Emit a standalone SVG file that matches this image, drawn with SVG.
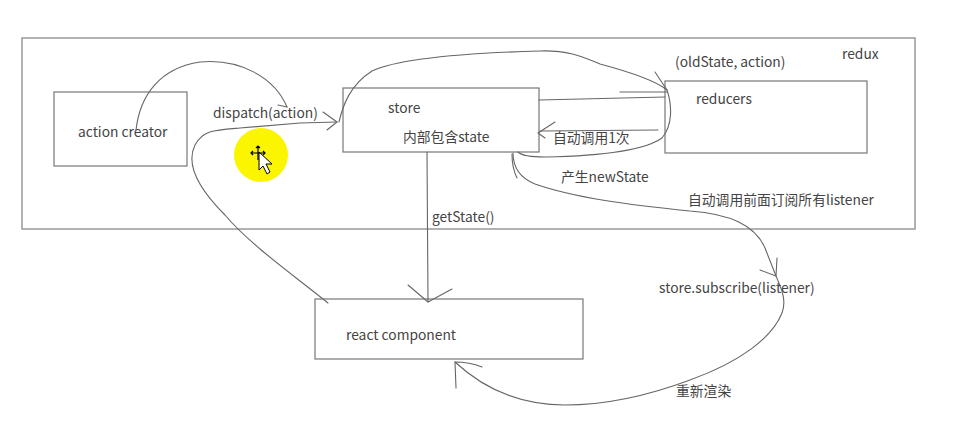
<svg xmlns="http://www.w3.org/2000/svg" width="965" height="426" viewBox="0 0 965 426">
<style>
.box{fill:#fff;stroke:#777;stroke-width:1.2}
.frame{fill:none;stroke:#999;stroke-width:1.5}
.c{fill:none;stroke:#666;stroke-width:1.1;stroke-linecap:round;stroke-linejoin:round}
text{font-family:"Noto Sans CJK SC","Noto Sans",sans-serif;font-size:13.8px;fill:#444}
</style>
<rect width="965" height="426" fill="#fff"/>
<g id="redux">
<rect class="frame" x="22" y="38" width="893" height="191"/>
<text x="842" y="59">redux</text>
</g>
<g id="action-creator">
<rect class="box" x="54" y="92" width="133" height="74"/>
<text x="78" y="137">action creator</text>
</g>
<g id="store">
<rect class="box" x="343" y="88" width="196" height="64"/>
<text x="388" y="113">store</text>
<text x="403" y="142">内部包含state</text>
</g>
<g id="reducers">
<rect class="box" x="665" y="81" width="202" height="72"/>
<text x="696" y="104">reducers</text>
</g>
<g id="react-component">
<rect class="box" x="315" y="299" width="268" height="60"/>
<text x="346" y="340">react component</text>
</g>
<g id="pointer">
<circle cx="261" cy="155" r="27" fill="#fbf500"/>
<path d="M259,152 L259,170 L263,166 L267,174 L270,172 L266,164 L272,164 Z" fill="#fff" stroke="#000" stroke-width="1"/>
<path d="M251,153 L265,153 M258,146 L258,160 M253,151 L251,153 L253,155 M263,151 L265,153 L263,155 M256,148 L258,146 L260,148" fill="none" stroke="#000" stroke-width="1.2"/>
</g>
<g id="connectors">
<path class="c" d="M136,130 C 140,95 160,68 200,62 C 240,58 275,78 287,107"/>
<path class="c" d="M278,105 L287,107"/>
<path class="c" d="M328,303 C 300,280 250,245 225,215 C 200,190 185,165 195,145 C 203,130 215,130 240,128 L 300,123 L 337,122"/>
<path class="c" d="M323,112 L337,122 L327,130"/>
<path class="c" d="M339,122 C 343,105 350,85 372,71 C 400,58 470,53 540,51 C 570,50 585,58 600,64 C 630,72 655,80 667,90 C 672,105 673,125 662,138 C 645,150 600,156 545,157 C 530,157 522,156 518,152"/>
<path class="c" d="M655,72 L667,90 M620,92 L667,92"/>
<path class="c" d="M539,100 L665,97"/>
<path class="c" d="M658,130 L540,131"/>
<path class="c" d="M555,122 L538,133 L545,138"/>
<path class="c" d="M427,152 L428,302"/>
<path class="c" d="M408,285 L428,302 L452,289"/>
<path class="c" d="M512,154 C 512,164 514,172 517,178"/>
<path class="c" d="M513,153 C 513,168 520,178 535,184 C 575,198 630,205 690,211 C 730,214 755,225 765,248 L 776,276 C 781,288 787,300 782,313 C 772,338 740,362 690,380 C 650,395 610,405 565,405 C 520,405 485,390 455,362"/>
<path class="c" d="M777,258 L776,276 M760,270 L776,276"/>
<path class="c" d="M482,367 C 472,363 465,362 455,362 L456,388"/>
</g>
<g id="labels">
<text x="213" y="118">dispatch(action)</text>
<text x="675" y="67">(oldState, action)</text>
<text x="553" y="143">自动调用1次</text>
<text x="561" y="182">产生newState</text>
<text x="688" y="205">自动调用前面订阅所有listener</text>
<text x="432" y="222">getState()</text>
<text x="659" y="293">store.subscribe(listener)</text>
<text x="676" y="396">重新渲染</text>
</g>
</svg>
